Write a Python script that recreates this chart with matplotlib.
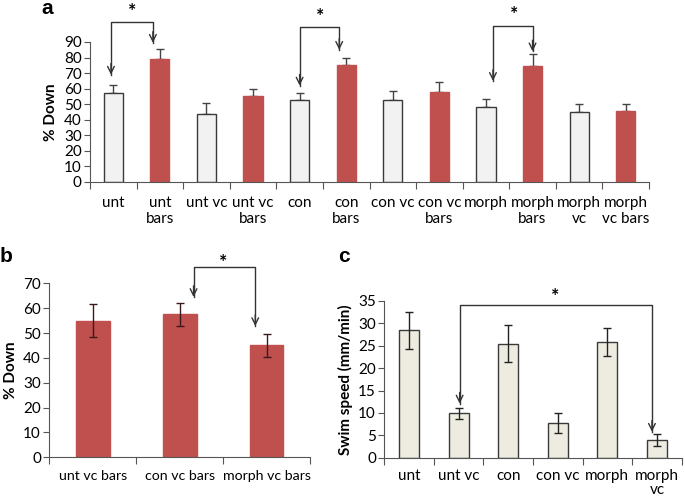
import matplotlib
matplotlib.use('Agg')
from matplotlib import pyplot as plt
import numpy as np

plt.rcParams['font.family'] = ['Lato', 'DejaVu Sans']

# panel a
a_labels = ['unt', 'unt\nbars', 'unt vc', 'unt vc\nbars', 'con', 'con\nbars',
            'con vc', 'con vc\nbars', 'morph', 'morph\nbars', 'morph\nvc', 'morph\nvc bars']
a_vals = [57, 79, 44, 55, 53, 75, 53, 58, 48, 74.5, 45, 45.5]
a_err = [5.5, 6.5, 7, 4.5, 4, 5, 5.5, 6, 5.5, 8, 5, 4.5]
a_red = [False, True] * 6

# panel b
b_labels = ['unt vc bars', 'con vc bars', 'morph vc bars']
b_vals = [55, 57.5, 45]
b_err = [6.5, 4.6, 4.8]

# panel c
c_labels = ['unt', 'unt vc', 'con', 'con vc', 'morph', 'morph\nvc']
c_vals = [28.5, 9.9, 25.5, 7.7, 25.9, 3.9]
c_err = [4.15, 1.2, 4.1, 2.2, 3.1, 1.3]

red = '#C0504D'
light = '#F2F2F2'
beige = '#EEECE1'
edge = '#3a3a3a'
W, H = 685, 499


def style_axes(ax, n, xsize=11, xpad=10):
    for s in ['top', 'right']:
        ax.spines[s].set_visible(False)
    ax.spines['left'].set_color('#555555')
    ax.spines['bottom'].set_color('#555555')
    ax.set_xlim(0, n)
    ax.set_xticks(np.arange(n + 1), minor=False)
    ax.set_xticklabels([''] * (n + 1))
    ax.set_xticks(np.arange(n) + 0.5, minor=True)
    ax.tick_params(axis='x', which='major', length=5, direction='out', color='#555555')
    ax.tick_params(axis='x', which='minor', length=0, labelsize=xsize, pad=xpad)
    ax.tick_params(axis='y', length=4, direction='out', color='#555555', labelsize=11, pad=2)


def bracket(ax, x1, y1, x2, y2, top, sx, sy):
    ax.plot([x1, x1, x2, x2], [y1, top, top, y2],
            color='#333333', lw=1, clip_on=False, solid_joinstyle='round')
    for x, y in [(x1, y1), (x2, y2)]:
        ax.annotate('', xy=(x, y), xytext=(0, 8), textcoords='offset points',
                    arrowprops=dict(arrowstyle='->', color='#333333', lw=1,
                                    shrinkA=0, shrinkB=0, mutation_scale=12),
                    annotation_clip=False)
    ax.text(sx, sy, '*', ha='center', va='center', fontsize=14, fontweight='bold',
            clip_on=False)


fig = plt.figure(figsize=(6.85, 4.99), dpi=100)

# --- a ---
axa = fig.add_axes([90 / W, 1 - 182 / H, (649 - 90) / W, (182 - 42) / H])
xa = np.arange(len(a_vals)) + 0.5
cols = [red if r else light for r in a_red]
edges = [red if r else edge for r in a_red]
axa.bar(xa, a_vals, width=0.41, color=cols, edgecolor=edges, linewidth=1, zorder=2)
axa.errorbar(xa, a_vals, yerr=[np.zeros(len(a_err)), a_err], fmt='none',
             ecolor='#444444', elinewidth=1, capsize=3, zorder=1)
style_axes(axa, len(a_vals))
axa.set_xticklabels(a_labels, minor=True, va='top')
axa.set_ylim(0, 90)
axa.set_yticks(np.arange(0, 91, 10))
axa.set_ylabel('% Down', fontsize=11, fontweight='bold', labelpad=4)
bracket(axa, 0.45, 69, 1.35, 89.5, 103, 0.9, 109.5)
bracket(axa, 4.5, 62, 5.35, 85, 99.5, 4.95, 106.5)
bracket(axa, 8.65, 65, 9.5, 84, 100, 9.1, 107.5)
fig.text(47 / W, 1 - 9 / H, 'a', fontsize=15, fontweight='bold', ha='center', va='center',
         family='Liberation Sans')

# --- b ---
axb = fig.add_axes([49.3 / W, 1 - 457.3 / H, (310 - 49.3) / W, (457.3 - 283.3) / H])
xb = np.arange(len(b_vals)) + 0.5
axb.bar(xb, b_vals, width=0.39, color=red, edgecolor=red, zorder=2)
axb.errorbar(xb, b_vals, yerr=b_err, fmt='none', ecolor='#3a1a1a', elinewidth=1,
             capsize=3, zorder=3)
style_axes(axb, len(b_vals), xsize=10.2, xpad=9)
axb.set_xticklabels(b_labels, minor=True)
axb.set_ylim(0, 70)
axb.set_yticks(np.arange(0, 71, 10))
axb.set_ylabel('% Down', fontsize=11, fontweight='bold', labelpad=4)
bracket(axb, 1.66, 64.5, 2.37, 52.8, 76.7, 2.0, 78.5)
fig.text(6 / W, 1 - 256 / H, 'b', fontsize=15, fontweight='bold', ha='center', va='center',
         family='Liberation Sans')

# --- c ---
axc = fig.add_axes([384.3 / W, 1 - 457.7 / H, (681.7 - 384.3) / W, (457.7 - 301) / H])
xc = np.arange(len(c_vals)) + 0.5
axc.bar(xc, c_vals, width=0.4, color=beige, edgecolor=edge, linewidth=1, zorder=2)
axc.errorbar(xc, c_vals, yerr=c_err, fmt='none', ecolor='#222222', elinewidth=1,
             capsize=3, zorder=3)
style_axes(axc, len(c_vals), xpad=8)
axc.set_xticklabels(c_labels, minor=True, va='top', linespacing=1.05)
axc.set_ylim(0, 35)
axc.set_yticks(np.arange(0, 36, 5))
axc.set_ylabel('Swim speed (mm/min)', fontsize=11, fontweight='bold', labelpad=4)
bracket(axc, 1.52, 12.1, 5.4, 5.8, 34.1, 3.45, 36.0)
fig.text(344 / W, 1 - 257 / H, 'c', fontsize=15, fontweight='bold', ha='center', va='center',
         family='Liberation Sans')

plt.savefig('out.png', dpi=100)
